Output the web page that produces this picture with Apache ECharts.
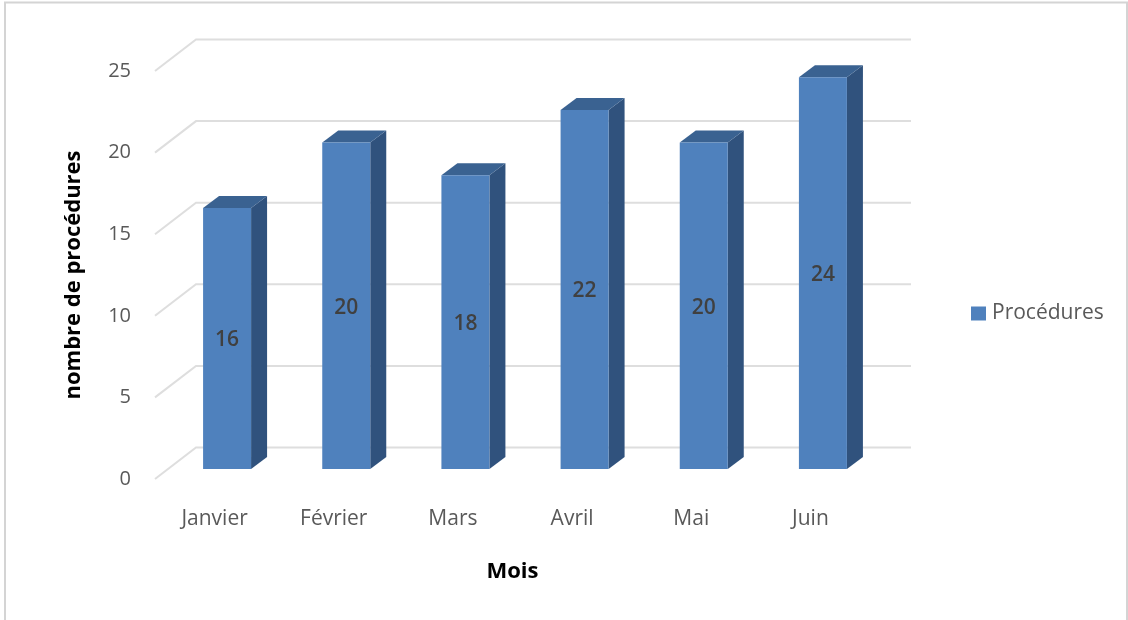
<!DOCTYPE html>
<html>
<head>
<meta charset="utf-8">
<style>html,body{margin:0;padding:0;background:#fff}#chart{width:1128px;height:620px}</style>
<script src="https://cdn.jsdelivr.net/npm/echarts@6/dist/echarts.min.js"></script>
</head>
<body>
<div id="chart"></div>
<script>
const months = ['Janvier', 'Février', 'Mars', 'Avril', 'Mai', 'Juin'];
const procedures = [16, 20, 18, 22, 20, 24];
const yTicks = [0, 5, 10, 15, 20, 25];

const FONT = '"Open Sans", sans-serif';
// Oblique projection used for the pseudo-3D look
const WALL_DX = 41, WALL_DY = -31.5;
const BAR_SHIFT_X = 12.5, BAR_SHIFT_Y = -10;
const BAR_WIDTH = 48, DEPTH_DX = 16, DEPTH_DY = -12;

function renderWall(params, api) {
  const sys = params.coordSys;
  const y = api.coord([0, api.value(1)])[1];
  const x0 = sys.x, x1 = sys.x + WALL_DX, x2 = x1 + sys.width;
  return {
    type: 'polyline',
    shape: { points: [[x0, y], [x1, y + WALL_DY], [x2, y + WALL_DY]] },
    style: { stroke: '#dedede', lineWidth: 2, fill: null }
  };
}

function renderBar(params, api) {
  const top = api.coord([api.value(0), api.value(1)]);
  const base = api.coord([api.value(0), 0]);
  const xl = top[0] + BAR_SHIFT_X - BAR_WIDTH / 2;
  const xr = xl + BAR_WIDTH;
  const yt = top[1] + BAR_SHIFT_Y;
  const yb = base[1] + BAR_SHIFT_Y;
  return {
    type: 'group',
    children: [
      { type: 'polygon',
        shape: { points: [[xr, yt], [xr + DEPTH_DX, yt + DEPTH_DY], [xr + DEPTH_DX, yb + DEPTH_DY], [xr, yb]] },
        style: { fill: '#30527d' } },
      { type: 'polygon',
        shape: { points: [[xl, yt], [xl + DEPTH_DX, yt + DEPTH_DY], [xr + DEPTH_DX, yt + DEPTH_DY], [xr, yt]] },
        style: { fill: '#3a6291' } },
      { type: 'rect',
        shape: { x: xl, y: yt, width: BAR_WIDTH, height: yb - yt },
        style: { fill: '#4f81bd' } },
      { type: 'text',
        x: (xl + xr) / 2, y: (yt + yb) / 2 + 2,
        style: { text: String(api.value(1)), fill: '#404040', font: '600 21px ' + FONT, align: 'center', verticalAlign: 'middle' } }
    ]
  };
}

const chart = echarts.init(document.getElementById('chart'), null, { renderer: 'canvas' });
chart.setOption({
  animation: false,
  backgroundColor: '#ffffff',
  grid: { left: 155, top: 71, width: 715, height: 408 },
  legend: {
    left: 966, top: 298,
    icon: 'rect', itemWidth: 15, itemHeight: 14, itemGap: 6,
    data: ['Procédures'],
    textStyle: { color: '#595959', fontSize: 21, fontFamily: FONT, padding: [0, 0, 0, 1] }
  },
  xAxis: {
    type: 'category', data: months,
    axisLine: { show: false }, axisTick: { show: false }, splitLine: { show: false },
    axisLabel: { color: '#595959', fontSize: 21, fontFamily: FONT, margin: 30 },
    name: 'Mois', nameLocation: 'middle', nameGap: 82,
    nameTextStyle: { color: '#000000', fontSize: 22, fontWeight: 'bold', fontFamily: FONT }
  },
  yAxis: {
    type: 'value', min: 0, max: 25, interval: 5,
    axisLine: { show: false }, axisTick: { show: false }, splitLine: { show: false },
    axisLabel: { color: '#595959', fontSize: 20, fontFamily: FONT, margin: 24, padding: [4, 0, 0, 0] },
    name: 'nombre de procédures', nameLocation: 'middle', nameGap: 70,
    nameTextStyle: { color: '#000000', fontSize: 22, fontWeight: 'bold', fontFamily: FONT }
  },
  series: [
    { name: 'grille', type: 'custom', silent: true, z: 1, renderItem: renderWall,
      encode: { x: 0, y: 1 }, data: yTicks.map(t => [0, t]) },
    { name: 'Procédures', type: 'custom', z: 2, renderItem: renderBar,
      itemStyle: { color: '#4f81bd' },
      encode: { x: 0, y: 1 }, data: procedures.map((v, i) => [i, v]) }
  ],
  graphic: [
    { type: 'polyline', silent: true, shape: { points: [[5, 620], [5, 2.5], [1127, 2.5], [1127, 620]] },
      style: { stroke: '#d4d4d4', lineWidth: 2, fill: null } }
  ]
});
</script>
</body>
</html>
